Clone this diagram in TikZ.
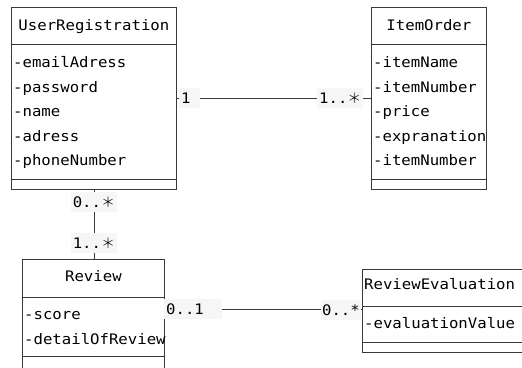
\documentclass[tikz,border=0pt]{standalone}
\usepackage{fontspec}
\newfontfamily\gfont{DejaVu Sans Mono}[FakeStretch=1.08]
\newfontfamily\jfont{Noto Sans CJK JP Light}
\newcommand{\zstar}{{\jfont\fontsize{14}{16}\selectfont ＊}}
\definecolor{linec}{HTML}{3A3A3A}
\definecolor{labelbg}{HTML}{F6F6F6}
\begin{document}
\begin{tikzpicture}[x=1pt,y=-1pt,
  font=\gfont\fontsize{14.5}{18}\selectfont,
  cls/.style={draw=linec, line width=0.8pt, anchor=north west, inner sep=0pt},
  sep/.style={draw=linec, line width=0.8pt},
  attr/.style={anchor=base west, inner sep=0pt},
  ctitle/.style={anchor=base, inner sep=0pt},
  assoc/.style={draw=linec, line width=0.8pt},
  mult/.style={fill=labelbg, inner xsep=2pt, inner ysep=0pt, minimum height=20pt}]
\useasboundingbox (0,0) rectangle (522,367);
% UserRegistration
\node[cls, minimum width=165pt, minimum height=182pt] (ur) at (11,7) {};
\draw[sep] (ur.west |- 0,44) -- (ur.east |- 0,44);
\draw[sep] (ur.west |- 0,179) -- (ur.east |- 0,179);
\node[ctitle] (urt) at (ur.north |- 0,30.5) {UserRegistration};
\node[attr] (ur1) at (13,67.5) {-emailAdress};
\node[attr] (ur2) at (13,92.5) {-password};
\node[attr] (ur3) at (13,116.5) {-name};
\node[attr] (ur4) at (13,141.5) {-adress};
\node[attr] (ur5) at (13,165.5) {-phoneNumber};
% ItemOrder
\node[cls, minimum width=115pt, minimum height=182pt] (io) at (371,7) {};
\draw[sep] (io.west |- 0,44) -- (io.east |- 0,44);
\draw[sep] (io.west |- 0,179) -- (io.east |- 0,179);
\node[ctitle] (iot) at (io.north |- 0,30.5) {ItemOrder};
\node[attr] (io1) at (373,67.5) {-itemName};
\node[attr] (io2) at (373,92.5) {-itemNumber};
\node[attr] (io3) at (373,116.5) {-price};
\node[attr] (io4) at (373,141.5) {-expranation};
\node[attr] (io5) at (373,165.5) {-itemNumber};
% Review
\node[cls, minimum width=142pt, minimum height=109pt] (rv) at (22,259) {};
\draw[sep] (rv.west |- 0,297) -- (rv.east |- 0,297);
\draw[sep] (rv.west |- 0,356) -- (rv.east |- 0,356);
\node[ctitle] (rvt) at (rv.north |- 0,281.5) {Review};
\node[attr] (rv1) at (24,319.5) {-score};
\node[attr] (rv2) at (24,344.5) {-detailOfReview};
% ReviewEvaluation
\node[cls, minimum width=175pt, minimum height=83pt] (re) at (362,269) {};
\draw[sep] (re.west |- 0,306) -- (re.east |- 0,306);
\draw[sep] (re.west |- 0,342) -- (re.east |- 0,342);
\node[attr] (ret) at (364,289.5) {ReviewEvaluation};
\node[attr] (re1) at (364,328.5) {-evaluationValue};
% associations
\draw[assoc] (ur.east) -- (io.west);
\node[mult, anchor=west, text width=17pt, align=left] (m1) at (179,98) {1};
\node[mult, anchor=west] (m2) at (317,98) {1..\zstar};
\draw[assoc] (ur.south) -- (ur.south |- rv.north);
\node[mult] (m3) at (ur.south |- 0,202) {0..\zstar};
\node[mult] (m4) at (ur.south |- 0,243) {1..\zstar};
\draw[assoc] (rv.east |- 0,309) -- (re.west |- 0,309);
\node[mult, anchor=west, text width=54pt, align=left] (m5) at (164,309) {0..1};
\node[mult, anchor=east, inner xsep=1pt] (m6) at (361,310) {0..*};
\end{tikzpicture}
\end{document}
